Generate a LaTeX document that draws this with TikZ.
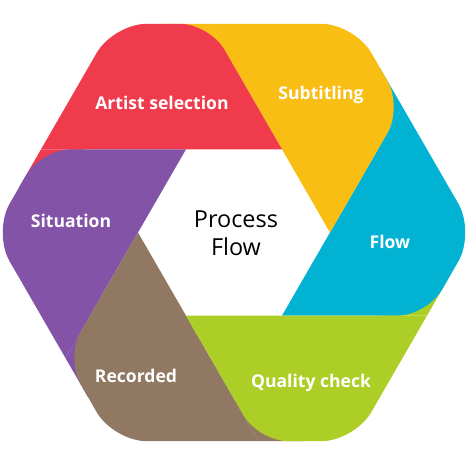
\documentclass[tikz,border=0pt]{standalone}
\usepackage{fontspec}
\setmainfont{Open Sans}
\usetikzlibrary{calc}
\definecolor{segcyan}{RGB}{2,178,210}
\definecolor{segyellow}{RGB}{249,190,20}
\definecolor{segred}{RGB}{239,59,76}
\definecolor{segpurple}{RGB}{131,83,168}
\definecolor{segbrown}{RGB}{144,120,99}
\definecolor{seggreen}{RGB}{173,206,38}
\tikzset{
    x=0.03cm, y=0.03cm, % one unit is one pixel of the sketch
    steplabel/.style={text=white, font=\bfseries\fontsize{15}{18}\selectfont}, % white labels on the segments
    centrelabel/.style={text=black, align=center, font=\fontsize{20}{24}\selectfont}, % text in the middle
}
\begin{document}
\begin{tikzpicture}
\useasboundingbox (-234,-235.5) rectangle (234,232.5);
% corners of the outer and inner hexagons
\foreach \k in {0,...,5} {
    \coordinate (o\k) at (60*\k:241);
    \coordinate (i\k) at (60*\k:96);
}
% where each inner side, carried on, meets the outer hexagon
\foreach \k in {0,...,5} {
    \pgfmathtruncatemacro\p{mod(\k+5,6)}
    \pgfmathtruncatemacro\n{mod(\k+1,6)}
    \coordinate (h\k) at (intersection cs: first line={(i\p)--(i\k)}, second line={(o\k)--(o\n)});
}
% bits that show under the rounded ends of the next segment
\foreach \k/\c in {0/segcyan,1/segyellow,2/segred,3/segpurple,4/segbrown,5/seggreen} {
    \pgfmathtruncatemacro\n{mod(\k+1,6)}
    \fill[\c] (h\k) -- ($(h\k)!1.35cm!(o\n)$) -- ($(h\k)!1.35cm!(i\k)$) -- cycle;
}
% the six segments
\foreach \k/\c in {0/segcyan,1/segyellow,2/segred,3/segpurple,4/segbrown,5/seggreen} {
    \pgfmathtruncatemacro\p{mod(\k+5,6)}
    \fill[\c] (i\p) -- (h\k) [rounded corners=1cm] -- (o\k) [rounded corners=0.9cm] -- (h\p) [sharp corners] -- cycle;
}
\node[steplabel] (artist) at (-72,129.5) {Artist selection};
\node[steplabel] (subtitling) at (87,137.5) {Subtitling};
\node[steplabel] (flow) at (156,-9.5) {Flow};
\node[steplabel] (quality) at (77,-150.5) {Quality check};
\node[steplabel] (recorded) at (-98,-143.5) {Recorded};
\node[steplabel] (situation) at (-163,11.5) {Situation};
\node[centrelabel] (centre) at (2,-0.5) {Process\\Flow};
\end{tikzpicture}
\end{document}
